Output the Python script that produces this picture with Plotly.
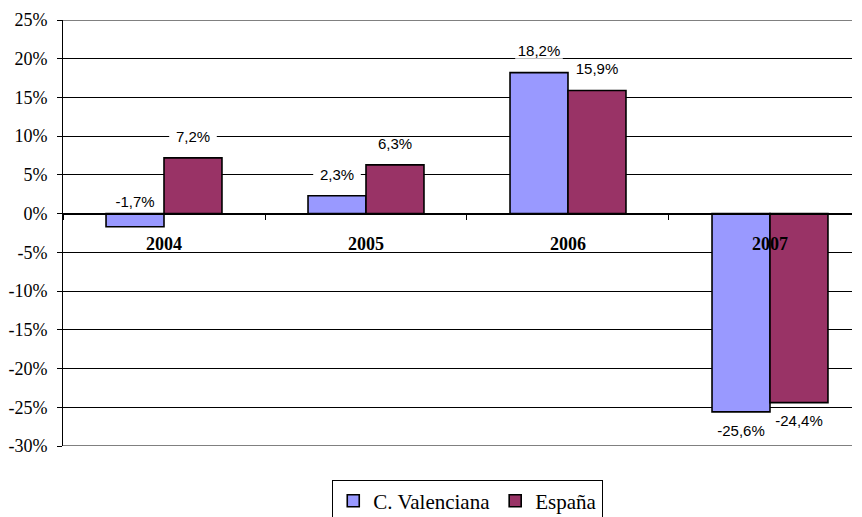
import plotly.graph_objects as go

# Data
years = ["2004", "2005", "2006", "2007"]
valenciana = [-1.7, 2.3, 18.2, -25.6]
espana = [7.2, 6.3, 15.9, -24.4]
y_ticks = [25, 20, 15, 10, 5, 0, -5, -10, -15, -20, -25, -30]
y_tick_labels = ["25%", "20%", "15%", "10%", "5%", "0%", "-5%", "-10%", "-15%", "-20%", "-25%", "-30%"]

SERIF = "Times New Roman, Liberation Serif, serif"
SANS = "Arial, Liberation Sans, sans-serif"

X_RANGE = [-0.5, 3.406]
PX_PER_UNIT = 426 / 55          # plot height / y span
BAR_OFFSET = 29 / 202           # half a bar, in category units
LABEL_PAD = 20 / PX_PER_UNIT    # label centre distance from bar end

series = [
    ("C. Valenciana", valenciana, "#9999FF", -BAR_OFFSET),
    ("España", espana, "#993366", BAR_OFFSET),
]

fig = go.Figure()
for name, values, color, off in series:
    fig.add_trace(go.Bar(
        x=years,
        y=values,
        name=name,
        marker=dict(color=color, line=dict(color="black", width=1.6)),
    ))

for name, values, color, off in series:
    lx, ly, lt = [], [], []
    for i, v in enumerate(values):
        lx.append(i + off)
        if -5 < v < 0:
            # small negative bar: label sits just above the zero line
            ly.append(10 / PX_PER_UNIT)
        else:
            ly.append(v + LABEL_PAD if v > 0 else v - LABEL_PAD)
        lt.append(f"{v:.1f}".replace(".", ",") + "%")
    fig.add_trace(go.Scatter(
        x=lx, y=ly, text=lt, mode="markers+text",
        textposition="middle center",
        textfont=dict(family=SANS, size=15, color="black"),
        # white strip behind each label hides the gridline, as in the original
        marker=dict(symbol="line-ew", size=34, color="white",
                    line=dict(color="white", width=12)),
        xaxis="x2", yaxis="y",
        showlegend=False, hoverinfo="skip",
    ))

# page body has an 8px margin, so the figure is shifted by that much
fig.update_layout(
    width=854, height=509,
    margin=dict(l=55, r=10, t=12, b=71, autoexpand=False),
    paper_bgcolor="white",
    plot_bgcolor="white",
    barmode="group",
    bargap=0.426,
    bargroupgap=0,
    showlegend=True,
    legend=dict(
        orientation="h",
        x=0.513, xanchor="center",
        y=-0.079, yanchor="top",
        bordercolor="black", borderwidth=1,
        bgcolor="white",
        font=dict(family=SERIF, size=21, color="black"),
    ),
    xaxis=dict(
        type="category",
        range=X_RANGE,
        anchor="free",
        position=30 / 55,
        automargin=False,
        showline=True, linecolor="black", linewidth=1,
        ticks="outside", ticklen=5, tickcolor="black",
        tickson="boundaries",
        ticklabelstandoff=14,
        showgrid=False,
        tickfont=dict(family=SERIF, size=18, color="black", weight="bold"),
    ),
    xaxis2=dict(
        range=X_RANGE,
        overlaying="x",
        visible=False,
    ),
    yaxis=dict(
        range=[-30, 25],
        automargin=False,
        tickvals=y_ticks,
        ticktext=y_tick_labels,
        showline=True, linecolor="black", linewidth=1,
        ticks="outside", ticklen=5, tickcolor="black",
        ticklabelstandoff=6,
        showgrid=True, gridcolor="black", gridwidth=1,
        zeroline=False,
        tickfont=dict(family=SERIF, size=18, color="black"),
    ),
)

# plot area border at top and bottom (gray in the reference)
fig.add_shape(type="line", xref="paper", yref="y", x0=0, x1=1, y0=25, y1=25,
              line=dict(color="#808080", width=2))
fig.add_shape(type="line", xref="paper", yref="y", x0=0, x1=1, y0=-30, y1=-30,
              line=dict(color="#808080", width=2))

fig.write_html("out.html")
